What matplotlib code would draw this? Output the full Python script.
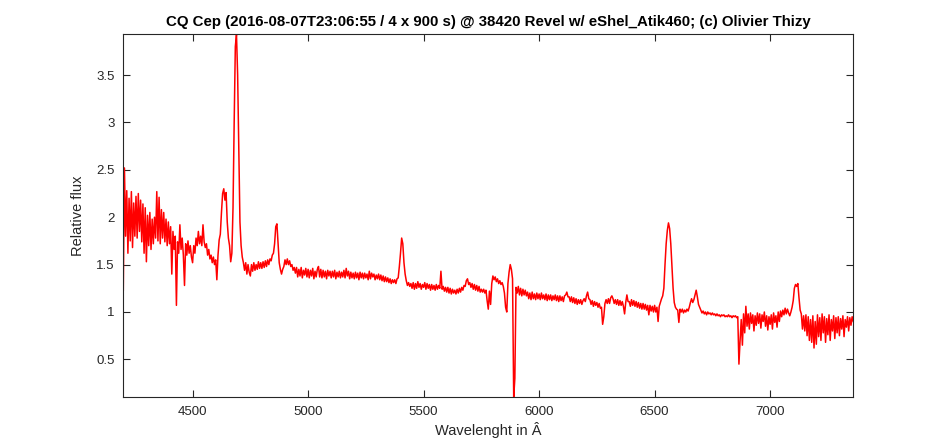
import numpy as np
import matplotlib
matplotlib.use("Agg")
import matplotlib.pyplot as plt
from matplotlib.ticker import FormatStrFormatter

# spectrum sampled every 5 A starting at 4200 A
wave_start = 4200
wave_step = 5

# 4200 - 4695 A (blue part, He II 4686 and C III/N III 4640)
flux_blue = [
    1.23, 2.52, 1.80, 2.28, 1.62, 2.20, 1.75, 2.27, 1.68, 2.15,
    1.80, 2.22, 1.78, 2.25, 1.85, 2.18, 1.74, 2.14, 1.62, 2.10,
    1.53, 2.02, 1.70, 2.05, 1.66, 1.98, 1.72, 2.00, 1.78, 2.27,
    1.75, 2.21, 1.72, 2.08, 1.78, 2.05, 1.74, 1.98, 1.70, 1.95,
    1.72, 1.90, 1.40, 1.85, 1.66, 1.80, 1.07, 1.74, 1.62, 1.92,
    1.66, 1.78, 1.60, 1.28, 1.72, 1.60, 1.75, 1.62, 1.70, 1.58,
    1.52, 1.70, 1.62, 1.78, 1.70, 1.85, 1.72, 1.80, 1.70, 1.92,
    1.74, 1.68, 1.72, 1.60, 1.66, 1.56, 1.60, 1.52, 1.58, 1.50,
    1.55, 1.34, 1.60, 1.76, 1.82, 2.05, 2.25, 2.30, 2.18, 2.26,
    1.95, 1.78, 1.70, 1.53, 1.62, 2.10, 3.00, 3.80, 3.93, 3.50,
]

# 4700 - 5445 A (H beta, He II 5411)
flux_green = [
    2.70, 1.95, 1.70, 1.58, 1.52, 1.44, 1.52, 1.40, 1.50, 1.42,
    1.38, 1.50, 1.43, 1.52, 1.44, 1.50, 1.45, 1.53, 1.46, 1.52,
    1.46, 1.53, 1.47, 1.54, 1.48, 1.55, 1.50, 1.56, 1.54, 1.60,
    1.62, 1.72, 1.90, 1.93, 1.72, 1.52, 1.45, 1.40, 1.45, 1.48,
    1.55, 1.50, 1.56, 1.50, 1.54, 1.48, 1.50, 1.44, 1.47, 1.41,
    1.47, 1.37, 1.45, 1.38, 1.47, 1.36, 1.44, 1.39, 1.46, 1.37,
    1.45, 1.36, 1.44, 1.38, 1.46, 1.35, 1.43, 1.37, 1.45, 1.48,
    1.37, 1.45, 1.36, 1.44, 1.37, 1.43, 1.35, 1.44, 1.38, 1.43,
    1.36, 1.43, 1.37, 1.44, 1.35, 1.42, 1.37, 1.43, 1.36, 1.42,
    1.37, 1.44, 1.36, 1.46, 1.38, 1.43, 1.35, 1.42, 1.36, 1.41,
    1.35, 1.42, 1.36, 1.41, 1.34, 1.42, 1.36, 1.41, 1.35, 1.41,
    1.36, 1.40, 1.34, 1.43, 1.35, 1.41, 1.37, 1.40, 1.34, 1.39,
    1.35, 1.40, 1.34, 1.39, 1.33, 1.38, 1.32, 1.37, 1.32, 1.36,
    1.31, 1.35, 1.30, 1.34, 1.31, 1.34, 1.30, 1.35, 1.36, 1.48,
    1.62, 1.78, 1.72, 1.52, 1.40, 1.33, 1.28, 1.31, 1.27, 1.30,
]

# 5450 - 6295 A (C III 5696, DIBs, C IV 5805, He I 5876, Na D)
flux_yellow = [
    1.25, 1.31, 1.24, 1.30, 1.25, 1.32, 1.26, 1.30, 1.24, 1.29,
    1.26, 1.31, 1.24, 1.30, 1.25, 1.29, 1.23, 1.29, 1.24, 1.28,
    1.23, 1.29, 1.24, 1.28, 1.25, 1.43, 1.24, 1.27, 1.22, 1.26,
    1.21, 1.26, 1.20, 1.25, 1.19, 1.24, 1.20, 1.23, 1.19, 1.24,
    1.20, 1.25, 1.21, 1.26, 1.23, 1.28, 1.27, 1.33, 1.35, 1.29,
    1.31, 1.26, 1.30, 1.24, 1.29, 1.23, 1.28, 1.22, 1.27, 1.21,
    1.24, 1.21, 1.24, 1.20, 1.23, 1.12, 1.03, 1.22, 1.08, 1.30,
    1.38, 1.34, 1.37, 1.32, 1.35, 1.30, 1.33, 1.29, 1.31, 1.27,
    1.20, 1.05, 1.00, 1.30, 1.42, 1.50, 1.45, 1.35, 0.10, 0.30,
    1.26, 1.20, 1.27, 1.18, 1.25, 1.17, 1.24, 1.18, 1.23, 1.17,
    1.21, 1.14, 1.20, 1.13, 1.21, 1.14, 1.19, 1.13, 1.20, 1.14,
    1.19, 1.13, 1.20, 1.14, 1.18, 1.13, 1.19, 1.12, 1.18, 1.13,
    1.18, 1.12, 1.17, 1.13, 1.18, 1.12, 1.17, 1.11, 1.17, 1.12,
    1.16, 1.11, 1.17, 1.18, 1.21, 1.16, 1.16, 1.11, 1.16, 1.10,
    1.15, 1.09, 1.14, 1.08, 1.13, 1.09, 1.13, 1.08, 1.12, 1.14,
    1.11, 1.17, 1.21, 1.14, 1.13, 1.08, 1.12, 1.06, 1.11, 1.07,
    1.10, 1.05, 1.09, 1.04, 1.05, 0.87, 0.95, 1.09, 1.13, 1.09,
]

# 6300 - 7360 A (H alpha, He I 6678, telluric bands, C IV 7110)
flux_red = [
    1.14, 1.09, 1.15, 1.17, 1.14, 1.09, 1.13, 1.08, 1.13, 1.07,
    1.12, 1.07, 1.11, 1.06, 0.98, 1.10, 1.18, 1.11, 1.11, 1.06,
    1.13, 1.07, 1.12, 1.06, 1.11, 1.05, 1.10, 1.04, 1.09, 1.03,
    1.09, 1.03, 1.08, 1.02, 1.07, 0.97, 1.07, 1.01, 1.06, 1.00,
    1.07, 1.00, 1.05, 0.90, 1.06, 1.10, 1.14, 1.17, 1.25, 1.50,
    1.72, 1.86, 1.94, 1.88, 1.72, 1.48, 1.25, 1.10, 1.05, 1.03,
    1.02, 0.89, 1.03, 1.00, 1.03, 0.99, 1.02, 1.00, 1.03, 1.01,
    1.05, 1.10, 1.14, 1.10, 1.13, 1.18, 1.23, 1.16, 1.08, 1.05,
    1.02, 0.99, 1.01, 0.98, 1.00, 0.97, 1.00, 0.98, 0.99, 0.97,
    0.99, 0.97, 0.98, 0.96, 0.98, 0.96, 0.97, 0.95, 0.97, 0.96,
    0.97, 0.95, 0.96, 0.95, 0.97, 0.95, 0.96, 0.94, 0.96, 0.95,
    0.96, 0.94, 0.95, 0.45, 0.70, 0.92, 0.65, 0.98, 0.78, 1.06,
    0.85, 0.98, 0.82, 0.99, 0.88, 0.97, 0.80, 0.96, 0.86, 0.99,
    0.88, 0.98, 0.83, 0.97, 0.90, 1.00, 0.85, 0.96, 0.81, 0.95,
    0.87, 0.97, 0.82, 0.99, 0.89, 0.96, 0.84, 1.00, 0.90, 1.01,
    0.95, 1.02, 0.97, 1.04, 0.98, 1.03, 0.99, 0.96, 1.00, 1.05,
    1.12, 1.25, 1.29, 1.27, 1.30, 1.15, 1.02, 0.98, 0.82, 0.96,
    0.80, 0.97, 0.75, 0.95, 0.70, 0.92, 0.68, 0.96, 0.62, 0.90,
    0.66, 0.97, 0.74, 0.94, 0.70, 0.98, 0.78, 0.95, 0.68, 0.93,
    0.76, 0.97, 0.70, 0.92, 0.80, 0.96, 0.72, 0.94, 0.78, 0.95,
    0.75, 0.93, 0.82, 0.96, 0.74, 0.92, 0.84, 0.95, 0.80, 0.94,
    0.86, 0.95, 0.90,
]

flux = np.array(flux_blue + flux_green + flux_yellow + flux_red)
wave = wave_start + wave_step * np.arange(len(flux))

xticks = [4500, 5000, 5500, 6000, 6500, 7000]
yticks = [0.5, 1, 1.5, 2, 2.5, 3, 3.5]

plt.rcParams['font.family'] = ['Liberation Sans', 'DejaVu Sans']
dark = '#262626'

fig = plt.figure(figsize=(9.44, 4.47), dpi=100)
ax = fig.add_axes([0.1306, 0.1112, 0.7733, 0.8121])
ax.plot(wave, flux, color='red', linewidth=1.1)

ax.set_xlim(4200, 7360)
ax.set_ylim(0.1, 3.93)
ax.set_xticks(xticks)
ax.set_yticks(yticks)
ax.yaxis.set_major_formatter(FormatStrFormatter('%g'))
ax.tick_params(direction='in', top=True, right=True, length=5, width=0.8,
               labelsize=9.5, colors=dark, pad=6)
for s in ax.spines.values():
    s.set_color(dark)
    s.set_linewidth(0.8)

ax.set_title('CQ Cep (2016-08-07T23:06:55 / 4 x 900 s) @ 38420 Revel w/ eShel_Atik460; (c) Olivier Thizy',
             fontsize=10.8, fontweight='bold', color='black', pad=6)
ax.set_xlabel('Wavelenght in Â', fontsize=10.5, color=dark, labelpad=3)
ax.set_ylabel('Relative flux', fontsize=10.5, color=dark, labelpad=8)

fig.savefig('out.png', dpi=100)
